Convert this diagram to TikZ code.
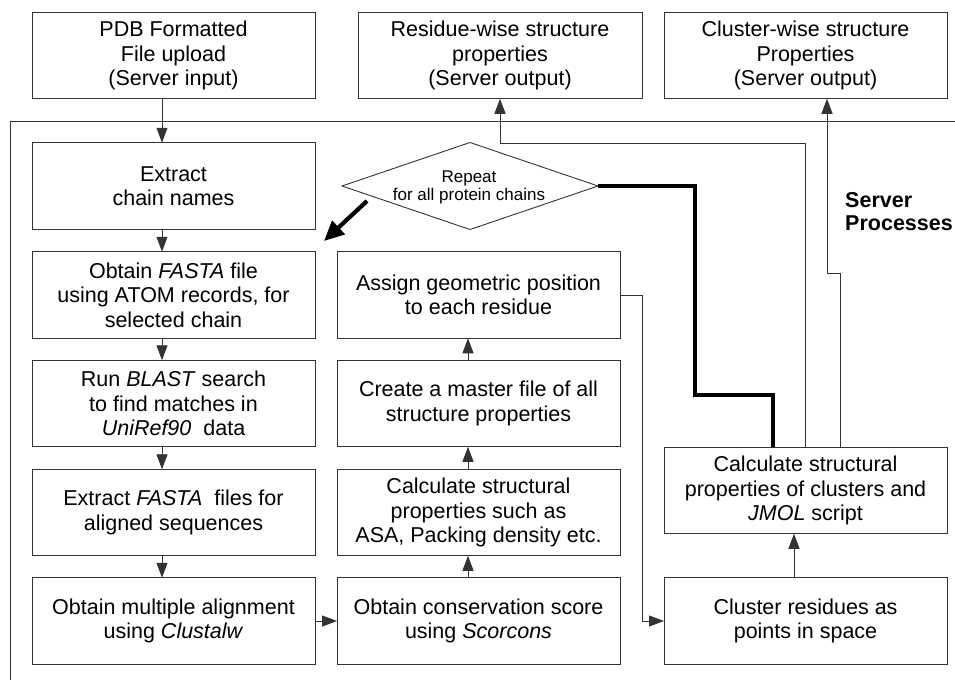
\documentclass[tikz,border=0pt]{standalone}
\usepackage{fontspec}
\setmainfont{Liberation Sans}
\usetikzlibrary{arrows.meta,shapes.geometric,calc}
\begin{document}
\begin{tikzpicture}[x=1pt,y=-1pt,
  box/.style={draw=black!80, line width=0.9pt, rectangle, minimum width=283pt,
    minimum height=86.5pt, align=center, inner sep=0pt, outer sep=0pt,
    font=\fontsize{21.5}{24.5}\selectfont},
  ln/.style={draw=black!80, line width=0.9pt},
  arr/.style={ln, -{Triangle[length=15pt,width=11pt]}},
  heavy/.style={line width=4.2pt, draw=black},
  heavyarr/.style={line width=4.2pt, draw=black, -{Triangle[length=20pt,width=18pt]}},
]
\useasboundingbox (0,0) rectangle (955,680);

% frame of server processes
\coordinate (fr1) at (955,121);
\coordinate (fr2) at (10,121);
\coordinate (fr3) at (10,680);
\draw[ln] (fr1) -- (fr2) -- (fr3);

% top row
\node[box] (pdb) at (173.5,55.5) {PDB Formatted\\File upload\\(Server input)};
\node[box, minimum width=284pt] (res) at (500,55.5) {Residue-wise structure\\properties\\(Server output)};
\node[box] (clw) at (805.5,55.5) {Cluster-wise structure\\Properties\\(Server output)};

% left column
\node[box] (chain) at (173.5,186) {Extract\\chain names};
\node[box] (fasta) at (173.5,295) {Obtain \textit{FASTA} file\\using ATOM records, for\\selected chain};
\node[box] (blast) at (173.5,403.5) {Run \textit{BLAST} search\\to find matches in\\\textit{UniRef90}\ \ data};
\node[box] (efasta) at (173.5,512.5) {Extract \textit{FASTA}\ \ files for\\aligned sequences};
\node[box] (msa) at (173.5,621) {Obtain multiple alignment\\using \textit{Clustalw}};

% middle column
\node[box] (assign) at (478.5,295) {Assign geometric position\\to each residue};
\node[box] (master) at (478.5,403.5) {Create a master file of all\\structure properties};
\node[box] (calcasa) at (478.5,512.5) {Calculate structural\\properties such as\\ASA, Packing density etc.};
\node[box] (cons) at (478.5,621) {Obtain conservation score\\using \textit{Scorcons}};

% right column
\node[box] (calcc) at (805.5,490.5) {Calculate structural\\properties of clusters and\\\textit{JMOL} script};
\node[box] (clres) at (805.5,621) {Cluster residues as\\points in space};

% diamond
\node[diamond, draw=black!80, line width=0.9pt, minimum width=256pt, minimum height=87pt,
  inner sep=0pt, outer sep=0pt] (rep) at (470,186) {};
\node[align=center, inner sep=0pt, font=\fontsize{17}{18}\selectfont] (reptxt) at (469,187) {Repeat\\for all protein chains};

% server processes label
\node[anchor=north west, align=left, inner sep=0pt,
  font=\bfseries\fontsize{21.5}{23}\selectfont] (sp) at (845,192) {Server\\Processes};

% left column arrows
\draw[arr] ($(pdb.south)+(-11.5,0)$) -- ($(chain.north)+(-11.5,0)$);
\draw[arr] ($(chain.south)+(-11.5,0)$) -- ($(fasta.north)+(-11.5,0)$);
\draw[arr] ($(fasta.south)+(-11.5,0)$) -- ($(blast.north)+(-11.5,0)$);
\draw[arr] ($(blast.south)+(-11.5,0)$) -- ($(efasta.north)+(-11.5,0)$);
\draw[arr] ($(efasta.south)+(-11.5,0)$) -- ($(msa.north)+(-11.5,0)$);

% across
\draw[arr] (msa.east) -- (cons.west);

% middle column arrows (upward)
\draw[arr] ($(cons.north)+(-10.5,0)$) -- ($(calcasa.south)+(-10.5,0)$);
\draw[arr] ($(calcasa.north)+(-10.5,0)$) -- ($(master.south)+(-10.5,0)$);
\draw[arr] ($(master.north)+(-10.5,0)$) -- ($(assign.south)+(-10.5,0)$);

% assign -> cluster residues
\draw[arr] (assign.east) -- ++(22,0) |- (clres.west);

% right column
\draw[arr] ($(clres.north)+(-11.5,0)$) -- ($(calcc.south)+(-11.5,0)$);

% outputs
\draw[arr] (calcc.north) -- ++(0,-304) -| (res.south);
\draw[arr] ($(calcc.north)+(34.5,0)$) -- ++(0,-174) -| ($(clw.south)+(21.5,0)$);

% heavy loop
\draw[heavy] (rep.east) -- ++(97,0) -- ++(0,209) -| ($(calcc.north)+(-32.5,0)$);
\coordinate (ta) at (367,201);
\coordinate (tb) at (324,241);
\draw[heavyarr] (ta) -- (tb);
\end{tikzpicture}
\end{document}
